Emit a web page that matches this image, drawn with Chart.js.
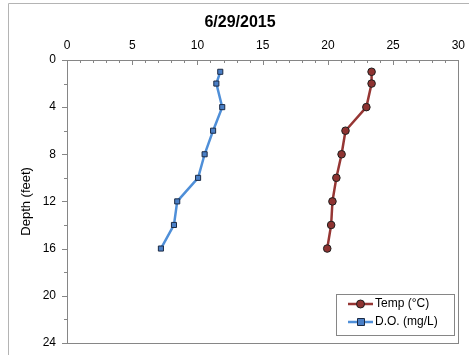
<!DOCTYPE html>
<html>
<head>
<meta charset="utf-8">
<script src="https://cdn.jsdelivr.net/npm/chart.js@4.4.1/dist/chart.umd.min.js"></script>
<style>
  html, body { margin: 0; padding: 0; background: #fff; overflow: hidden; }
  /* slightly larger than the window: Chart.js keeps room for edge labels,
     the reference plot runs right up to the cropped edges */
  #wrap { width: 472px; height: 361px; position: relative; }
</style>
</head>
<body>
<div id="wrap"><canvas id="profileChart"></canvas></div>
<script>
const chartTitle = '6/29/2015';
const depthFeet = [1, 2, 4, 6, 8, 10, 12, 14, 16];
const tempC = [23.35, 23.35, 22.95, 21.35, 21.05, 20.65, 20.35, 20.25, 19.95];
const dissolvedO2 = [11.75, 11.45, 11.9, 11.2, 10.55, 10.05, 8.45, 8.2, 7.2];
const xTicks = [0, 5, 10, 15, 20, 25, 30];
const yTicks = [0, 4, 8, 12, 16, 20, 24];

const FONT = "'Liberation Sans', Arial, sans-serif";
const AXIS_GRAY = '#868686';

// frame, plot box, minor/major ticks, title and legend
const decorPlugin = {
    id: 'decor',
    beforeDraw(chart) {
        const ctx = chart.ctx;
        ctx.save();
        ctx.strokeStyle = '#b4b4b4';
        ctx.lineWidth = 1;
        ctx.beginPath();
        ctx.moveTo(8.5, 400);
        ctx.lineTo(8.5, 3.5);
        ctx.lineTo(500, 3.5);
        ctx.stroke();
        ctx.restore();
    },
    afterDatasetsDraw(chart) {
        const { ctx, chartArea: a, scales: { x, y } } = chart;
        ctx.save();
        ctx.strokeStyle = AXIS_GRAY;
        ctx.lineWidth = 1;
        ctx.strokeRect(Math.round(a.left) + 0.5, Math.round(a.top) + 0.5,
            Math.round(a.right - a.left), Math.round(a.bottom - a.top));
        ctx.beginPath();
        for (let v = x.min; v <= x.max; v++) {
            const px = Math.round(x.getPixelForValue(v)) + 0.5;
            const len = v % 5 === 0 ? 5 : 3;
            ctx.moveTo(px, a.top);
            ctx.lineTo(px, a.top + len);
        }
        for (let v = y.min; v <= y.max; v += 2) {
            const py = Math.round(y.getPixelForValue(v)) + 0.5;
            const len = v % 4 === 0 ? 5 : 3;
            ctx.moveTo(a.left - len, py);
            ctx.lineTo(a.left, py);
        }
        ctx.stroke();
        ctx.restore();
    },
    afterDraw(chart) {
        const ctx = chart.ctx;
        ctx.save();
        ctx.fillStyle = '#000';
        ctx.font = 'bold 16px ' + FONT;
        ctx.textAlign = 'center';
        ctx.textBaseline = 'middle';
        ctx.fillText(chartTitle, 240, 23);

        // legend box
        const bx = 336, by = 294, bw = 118, bh = 41;
        ctx.strokeStyle = AXIS_GRAY;
        ctx.lineWidth = 1;
        ctx.fillStyle = '#fff';
        ctx.fillRect(bx, by, bw, bh);
        ctx.strokeRect(bx + 0.5, by + 0.5, bw, bh);
        ctx.font = '12px ' + FONT;
        ctx.textAlign = 'left';
        chart.data.datasets.forEach((ds, i) => {
            const cy = by + 10 + i * 18;
            ctx.strokeStyle = ds.borderColor;
            ctx.lineWidth = 2.5;
            ctx.beginPath();
            ctx.moveTo(bx + 12, cy);
            ctx.lineTo(bx + 37, cy);
            ctx.stroke();
            ctx.fillStyle = ds.pointBackgroundColor;
            ctx.strokeStyle = ds.pointBorderColor;
            ctx.lineWidth = 1;
            ctx.beginPath();
            if (ds.pointStyle === 'rect') {
                ctx.rect(bx + 21.5, cy - 3.5, 7, 7);
            } else {
                ctx.arc(bx + 24.5, cy, 4, 0, Math.PI * 2);
            }
            ctx.fill();
            ctx.stroke();
            ctx.fillStyle = '#000';
            ctx.textBaseline = 'middle';
            ctx.fillText(ds.label, bx + 39, cy);
        });
        ctx.restore();
    }
};

function toPoints(xs) {
    return xs.map((v, i) => ({ x: v, y: depthFeet[i] }));
}

new Chart(document.getElementById('profileChart'), {
    type: 'scatter',
    data: {
        datasets: [
            {
                label: 'Temp (°C)',
                data: toPoints(tempC),
                showLine: true,
                borderColor: '#963634',
                borderWidth: 2.5,
                pointStyle: 'circle',
                pointRadius: 3.8,
                pointBackgroundColor: '#8e3331',
                pointBorderColor: '#1e1e1e',
                pointBorderWidth: 1
            },
            {
                label: 'D.O. (mg/L)',
                data: toPoints(dissolvedO2),
                showLine: true,
                borderColor: '#4f8fd8',
                borderWidth: 2.5,
                pointStyle: 'rect',
                pointRadius: 3.6,
                pointBackgroundColor: '#4a7fc6',
                pointBorderColor: '#1b2a44',
                pointBorderWidth: 1
            }
        ]
    },
    options: {
        responsive: true,
        maintainAspectRatio: false,
        animation: false,
        layout: { padding: 0 },
        plugins: {
            legend: { display: false },
            title: { display: false },
            tooltip: { enabled: false }
        },
        scales: {
            x: {
                type: 'linear',
                position: 'top',
                min: 0,
                max: 30,
                afterFit: s => { s.height = 60; },
                afterBuildTicks: s => { s.ticks = xTicks.map(v => ({ value: v })); },
                grid: { display: false, drawTicks: false },
                border: { display: false },
                ticks: { color: '#000', font: { family: FONT, size: 12 }, padding: 7, maxRotation: 0 }
            },
            y: {
                type: 'linear',
                reverse: true,
                min: 0,
                max: 24,
                afterFit: s => { s.width = 67; },
                afterBuildTicks: s => { s.ticks = yTicks.map(v => ({ value: v })); },
                grid: { display: false, drawTicks: false },
                border: { display: false },
                ticks: { color: '#000', font: { family: FONT, size: 12 }, padding: 11 },
                title: {
                    display: true,
                    text: 'Depth (feet)',
                    color: '#000',
                    font: { family: FONT, size: 13 },
                    padding: { top: 19, bottom: 0 }
                }
            }
        }
    },
    plugins: [decorPlugin]
});
</script>
</body>
</html>
